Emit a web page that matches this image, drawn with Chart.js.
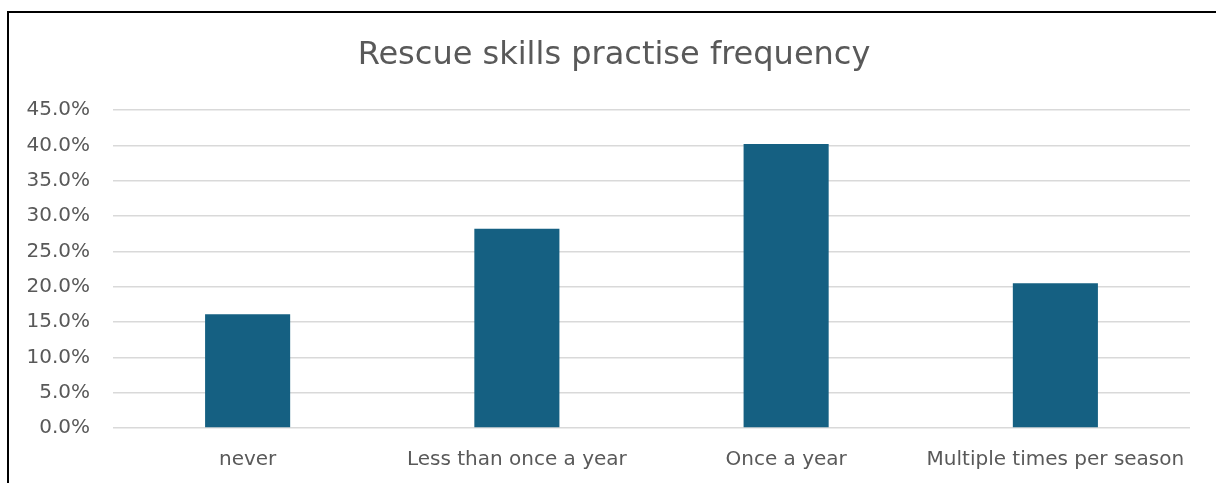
<!DOCTYPE html>
<html>
<head>
<meta charset="utf-8">
<script src="https://cdn.jsdelivr.net/npm/chart.js@4/dist/chart.umd.min.js"></script>
<style>
  html, body { margin: 0; padding: 0; background: #ffffff; overflow: hidden; }
  #wrap { position: relative; width: 1216px; height: 483px; overflow: hidden; }
  #c { position: absolute; left: 0; top: 0; }
  .ln { position: absolute; background: #000; pointer-events: none; }
</style>
</head>
<body>
<div id="wrap">
  <canvas id="c" width="1216" height="483"></canvas>
  <div class="ln" style="left:7px; top:11px; width:1209px; height:2px;"></div>
  <div class="ln" style="left:7px; top:11px; width:2px; height:472px;"></div>
</div>
<script>
const titleText = 'Rescue skills practise frequency';
const categories = ['never', 'Less than once a year', 'Once a year', 'Multiple times per season'];
const percentValues = [16.1, 28.2, 40.2, 20.5];
const yTickMin = 0;
const yTickMax = 45;
const yTickStep = 5;

const FONT = "'DejaVu Sans', sans-serif";
const TEXT = '#595959';

new Chart(document.getElementById('c'), {
  type: 'bar',
  data: {
    labels: categories,
    datasets: [{
      data: percentValues,
      backgroundColor: '#156082',
      borderWidth: 0,
      categoryPercentage: 1,
      barPercentage: 0.316
    }]
  },
  options: {
    responsive: false,
    animation: false,
    devicePixelRatio: 1,
    layout: { padding: { left: 0, right: -12, top: 0, bottom: 0 } },
    plugins: {
      legend: { display: false },
      tooltip: { enabled: false },
      title: {
        display: true,
        text: titleText,
        color: TEXT,
        font: { family: FONT, size: 32, weight: 'normal' },
        padding: { top: 36, bottom: 35.6 }
      }
    },
    scales: {
      x: {
        grid: { display: false, drawTicks: false },
        border: { display: false },
        ticks: { color: TEXT, font: { family: FONT, size: 20 }, padding: 20, maxRotation: 0, autoSkip: false },
        afterFit: (s) => { s.height = 55; }
      },
      y: {
        min: yTickMin,
        max: yTickMax,
        grid: { color: '#d9d9d9', lineWidth: 1.5, drawTicks: false },
        border: { display: false },
        ticks: {
          stepSize: yTickStep,
          color: TEXT,
          font: { family: FONT, size: 20 },
          padding: 23,
          callback: (v) => Number(v).toFixed(1) + '%'
        },
        afterFit: (s) => { s.width = 113; }
      },
      spacer: {
        type: 'linear',
        position: 'right',
        display: true,
        grid: { display: false, drawTicks: false },
        border: { display: false },
        ticks: { display: false },
        afterFit: (s) => { s.width = 38; }
      }
    }
  }
});
</script>
</body>
</html>
